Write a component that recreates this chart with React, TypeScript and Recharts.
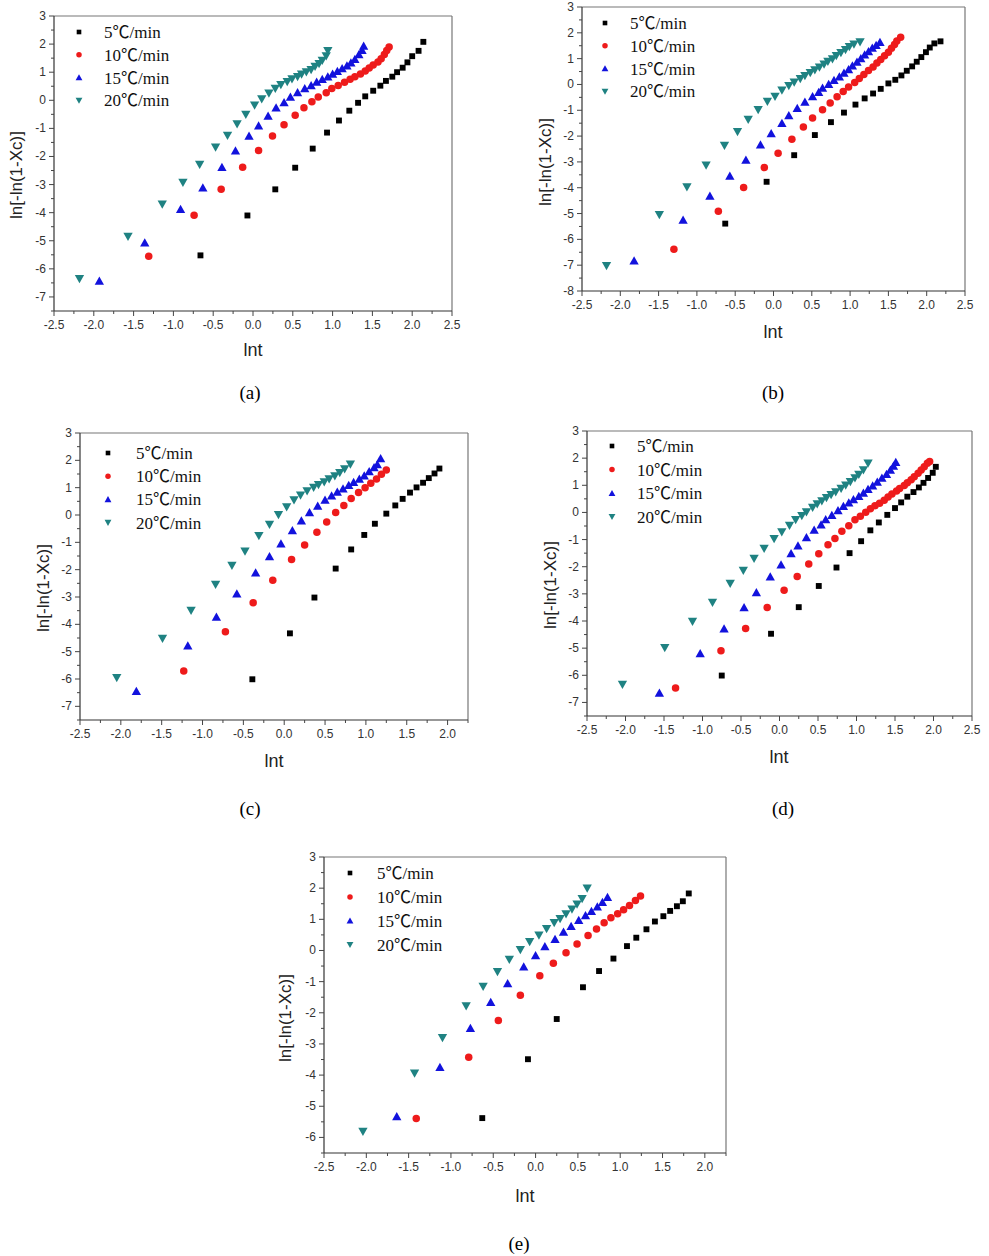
import { ScatterChart, Scatter, XAxis, YAxis, ReferenceLine } from "recharts";

type Pt = [number, number];

// panel (a): lnt vs ln[-ln(1-Xc)]
const a5: Pt[] = [[-0.66,-5.52],[-0.07,-4.10],[0.28,-3.17],[0.53,-2.40],[0.75,-1.72],[0.93,-1.15],[1.08,-0.72],[1.21,-0.37],[1.32,-0.09],[1.41,0.14],[1.51,0.34],[1.60,0.52],[1.67,0.69],[1.75,0.84],[1.81,1.00],[1.88,1.16],[1.94,1.35],[2.00,1.57],[2.08,1.76],[2.14,2.08]];
const a10: Pt[] = [[-1.31,-5.55],[-0.74,-4.09],[-0.40,-3.17],[-0.13,-2.38],[0.07,-1.79],[0.245,-1.27],[0.39,-0.87],[0.53,-0.53],[0.64,-0.27],[0.74,-0.05],[0.82,0.12],[0.92,0.27],[0.99,0.42],[1.07,0.53],[1.15,0.64],[1.22,0.75],[1.28,0.84],[1.35,0.94],[1.41,1.04],[1.46,1.15],[1.51,1.26],[1.57,1.36],[1.61,1.48],[1.65,1.63],[1.68,1.77],[1.71,1.90]];
const a15: Pt[] = [[-1.93,-6.43],[-1.36,-5.07],[-0.91,-3.88],[-0.63,-3.11],[-0.39,-2.38],[-0.22,-1.80],[-0.05,-1.27],[0.07,-0.91],[0.19,-0.56],[0.29,-0.27],[0.39,-0.08],[0.47,0.12],[0.56,0.28],[0.65,0.42],[0.73,0.53],[0.80,0.65],[0.87,0.75],[0.94,0.84],[1.00,0.94],[1.06,1.03],[1.12,1.13],[1.18,1.23],[1.23,1.34],[1.28,1.46],[1.33,1.63],[1.37,1.78],[1.39,1.93]];
const a20: Pt[] = [[-2.18,-6.35],[-1.57,-4.85],[-1.14,-3.70],[-0.88,-2.93],[-0.67,-2.29],[-0.47,-1.67],[-0.32,-1.25],[-0.20,-0.84],[-0.09,-0.51],[0.02,-0.18],[0.11,0.05],[0.20,0.25],[0.28,0.42],[0.35,0.55],[0.43,0.66],[0.49,0.76],[0.56,0.84],[0.61,0.93],[0.67,1.01],[0.73,1.09],[0.78,1.20],[0.83,1.30],[0.87,1.42],[0.92,1.58],[0.94,1.76]];

// panel (b)
const b5: Pt[] = [[-0.63,-5.39],[-0.09,-3.77],[0.27,-2.74],[0.54,-1.96],[0.75,-1.46],[0.92,-1.09],[1.07,-0.78],[1.19,-0.54],[1.30,-0.35],[1.40,-0.17],[1.50,0.04],[1.59,0.18],[1.67,0.35],[1.74,0.53],[1.81,0.70],[1.87,0.88],[1.93,1.06],[1.99,1.25],[2.04,1.43],[2.10,1.59],[2.18,1.67]];
const b10: Pt[] = [[-1.30,-6.38],[-0.72,-4.91],[-0.39,-3.99],[-0.12,-3.22],[0.06,-2.66],[0.24,-2.12],[0.39,-1.65],[0.51,-1.30],[0.64,-0.98],[0.74,-0.72],[0.83,-0.48],[0.91,-0.27],[0.98,-0.10],[1.06,0.08],[1.12,0.23],[1.18,0.39],[1.24,0.54],[1.30,0.68],[1.35,0.83],[1.40,0.97],[1.45,1.11],[1.50,1.25],[1.54,1.40],[1.58,1.55],[1.61,1.68],[1.66,1.83]];
const b15: Pt[] = [[-1.82,-6.83],[-1.18,-5.25],[-0.83,-4.32],[-0.57,-3.55],[-0.36,-2.93],[-0.17,-2.34],[-0.03,-1.90],[0.11,-1.50],[0.20,-1.20],[0.31,-0.92],[0.41,-0.68],[0.51,-0.47],[0.59,-0.30],[0.64,-0.14],[0.72,0.01],[0.79,0.16],[0.86,0.30],[0.92,0.44],[0.98,0.58],[1.03,0.72],[1.09,0.87],[1.14,1.01],[1.19,1.15],[1.24,1.28],[1.29,1.41],[1.34,1.52],[1.39,1.63]];
const b20: Pt[] = [[-2.18,-7.02],[-1.49,-5.05],[-1.13,-3.97],[-0.88,-3.13],[-0.64,-2.36],[-0.47,-1.83],[-0.33,-1.36],[-0.20,-0.98],[-0.08,-0.66],[0.02,-0.47],[0.11,-0.22],[0.20,-0.05],[0.27,0.09],[0.35,0.22],[0.41,0.34],[0.48,0.45],[0.54,0.56],[0.60,0.67],[0.66,0.78],[0.71,0.89],[0.77,0.99],[0.82,1.11],[0.88,1.23],[0.94,1.34],[0.99,1.46],[1.05,1.56],[1.13,1.64]];

// panel (c)
const c5: Pt[] = [[-0.39,-6.01],[0.07,-4.33],[0.37,-3.02],[0.63,-1.96],[0.82,-1.26],[0.98,-0.73],[1.11,-0.32],[1.25,0.05],[1.36,0.35],[1.45,0.59],[1.54,0.82],[1.62,1.01],[1.70,1.18],[1.77,1.35],[1.84,1.52],[1.90,1.70]];
const c10: Pt[] = [[-1.23,-5.71],[-0.72,-4.27],[-0.38,-3.21],[-0.14,-2.39],[0.09,-1.63],[0.25,-1.10],[0.40,-0.63],[0.52,-0.26],[0.63,0.09],[0.73,0.35],[0.82,0.60],[0.91,0.82],[0.99,1.00],[1.06,1.16],[1.13,1.32],[1.19,1.49],[1.25,1.65]];
const c15: Pt[] = [[-1.81,-6.45],[-1.18,-4.78],[-0.83,-3.73],[-0.58,-2.88],[-0.35,-2.11],[-0.18,-1.52],[-0.04,-1.05],[0.10,-0.57],[0.21,-0.21],[0.31,0.09],[0.41,0.33],[0.50,0.55],[0.58,0.70],[0.65,0.84],[0.72,0.96],[0.79,1.09],[0.85,1.20],[0.92,1.32],[0.98,1.44],[1.04,1.59],[1.10,1.74],[1.14,1.85],[1.18,2.07]];
const c20: Pt[] = [[-2.05,-5.95],[-1.49,-4.52],[-1.14,-3.49],[-0.84,-2.54],[-0.64,-1.85],[-0.48,-1.33],[-0.31,-0.76],[-0.18,-0.35],[-0.07,0.01],[0.03,0.29],[0.12,0.55],[0.20,0.72],[0.28,0.88],[0.36,1.01],[0.42,1.11],[0.49,1.21],[0.55,1.32],[0.62,1.43],[0.68,1.55],[0.74,1.68],[0.81,1.86]];

// panel (d)
const d5: Pt[] = [[-0.75,-6.01],[-0.11,-4.47],[0.25,-3.49],[0.51,-2.71],[0.74,-2.03],[0.91,-1.50],[1.06,-1.06],[1.18,-0.66],[1.29,-0.37],[1.40,-0.09],[1.50,0.16],[1.58,0.37],[1.66,0.58],[1.74,0.75],[1.81,0.92],[1.87,1.09],[1.93,1.27],[1.99,1.46],[2.03,1.68]];
const d10: Pt[] = [[-1.35,-6.47],[-0.76,-5.10],[-0.44,-4.28],[-0.16,-3.50],[0.06,-2.87],[0.23,-2.36],[0.38,-1.90],[0.51,-1.52],[0.63,-1.19],[0.72,-0.96],[0.81,-0.69],[0.90,-0.49],[0.98,-0.27],[1.05,-0.14],[1.12,0.01],[1.18,0.14],[1.24,0.25],[1.30,0.34],[1.36,0.45],[1.41,0.57],[1.46,0.68],[1.52,0.79],[1.56,0.88],[1.62,0.99],[1.66,1.09],[1.71,1.20],[1.75,1.31],[1.80,1.44],[1.84,1.56],[1.88,1.68],[1.92,1.81],[1.95,1.88]];
const d15: Pt[] = [[-1.56,-6.65],[-1.03,-5.20],[-0.72,-4.29],[-0.46,-3.50],[-0.30,-2.95],[-0.12,-2.37],[0.02,-1.93],[0.15,-1.51],[0.24,-1.23],[0.35,-0.92],[0.45,-0.65],[0.54,-0.45],[0.60,-0.26],[0.68,-0.10],[0.76,0.07],[0.83,0.23],[0.90,0.36],[0.96,0.48],[1.03,0.60],[1.09,0.72],[1.15,0.85],[1.21,0.98],[1.27,1.12],[1.33,1.27],[1.39,1.41],[1.44,1.56],[1.48,1.71],[1.51,1.85]];
const d20: Pt[] = [[-2.04,-6.34],[-1.49,-4.99],[-1.13,-4.02],[-0.87,-3.32],[-0.64,-2.62],[-0.47,-2.14],[-0.33,-1.70],[-0.20,-1.33],[-0.07,-0.97],[0.03,-0.72],[0.13,-0.48],[0.21,-0.27],[0.29,-0.12],[0.35,0.02],[0.43,0.18],[0.49,0.31],[0.55,0.42],[0.61,0.54],[0.67,0.65],[0.73,0.75],[0.80,0.88],[0.86,1.00],[0.92,1.13],[0.98,1.27],[1.03,1.40],[1.09,1.56],[1.15,1.81]];

// panel (e)
const e5: Pt[] = [[-0.63,-5.38],[-0.09,-3.49],[0.25,-2.20],[0.56,-1.18],[0.75,-0.66],[0.92,-0.26],[1.08,0.14],[1.19,0.41],[1.31,0.68],[1.41,0.93],[1.51,1.10],[1.59,1.27],[1.67,1.42],[1.74,1.58],[1.81,1.83]];
const e10: Pt[] = [[-1.41,-5.39],[-0.79,-3.43],[-0.44,-2.25],[-0.18,-1.44],[0.05,-0.81],[0.21,-0.41],[0.36,-0.07],[0.49,0.21],[0.62,0.48],[0.72,0.69],[0.81,0.89],[0.89,1.05],[0.97,1.18],[1.04,1.31],[1.11,1.44],[1.18,1.60],[1.24,1.75]];
const e15: Pt[] = [[-1.64,-5.33],[-1.13,-3.75],[-0.77,-2.50],[-0.53,-1.66],[-0.33,-1.06],[-0.14,-0.52],[0.00,-0.16],[0.11,0.13],[0.23,0.36],[0.33,0.59],[0.42,0.78],[0.51,0.97],[0.59,1.12],[0.66,1.26],[0.73,1.40],[0.79,1.55],[0.85,1.71]];
const e20: Pt[] = [[-2.04,-5.81],[-1.43,-3.94],[-1.10,-2.80],[-0.82,-1.78],[-0.62,-1.16],[-0.45,-0.68],[-0.31,-0.29],[-0.18,0.02],[-0.07,0.28],[0.04,0.49],[0.13,0.70],[0.22,0.89],[0.29,1.02],[0.36,1.17],[0.43,1.32],[0.49,1.48],[0.55,1.66],[0.61,2.00]];

// tick labels
const xTicksWide = [-2.5, -2, -1.5, -1, -0.5, 0, 0.5, 1, 1.5, 2, 2.5];
const xTicksNarrow = [-2.5, -2, -1.5, -1, -0.5, 0, 0.5, 1, 1.5, 2];
const yTicks7 = [-7, -6, -5, -4, -3, -2, -1, 0, 1, 2, 3];
const yTicks8 = [-8, -7, -6, -5, -4, -3, -2, -1, 0, 1, 2, 3];
const yTicks6 = [-6, -5, -4, -3, -2, -1, 0, 1, 2, 3];

const rateNames = ["5℃/min", "10℃/min", "15℃/min", "20℃/min"];
const rateColors = ["#000000", "#ee1b1b", "#1212dd", "#1f8282"];
const rateShapes = ["square", "circle", "up", "down"];

const SANS = "'Liberation Sans', Arial, sans-serif";
const SERIF = "'Liberation Serif', 'Times New Roman', 'Noto Sans CJK SC', serif";

type PanelDef = {
  box: [number, number, number, number]; // plot left, top, right, bottom on page
  xDomain: [number, number];
  yDomain: [number, number];
  xTicks: number[];
  yTicks: number[];
  series: Pt[][];
  legend: { mx: number; y: number; tx: number; gap: number };
  yLabel: [number, number];
  xLabel: [number, number];
  caption: [string, number, number];
};

const panels: PanelDef[] = [
  { box: [54, 16, 452, 311], xDomain: [-2.5, 2.5], yDomain: [-7.5, 3], xTicks: xTicksWide, yTicks: yTicks7,
    series: [a5, a10, a15, a20], legend: { mx: 79, y: 32, tx: 104, gap: 22.8 },
    yLabel: [16, 175], xLabel: [253, 350], caption: ["(a)", 250, 392] },
  { box: [582, 7, 965, 291], xDomain: [-2.5, 2.5], yDomain: [-8, 3], xTicks: xTicksWide, yTicks: yTicks8,
    series: [b5, b10, b15, b20], legend: { mx: 605, y: 23, tx: 630, gap: 22.8 },
    yLabel: [545, 162], xLabel: [773, 332], caption: ["(b)", 773, 392] },
  { box: [80, 433, 468, 720], xDomain: [-2.5, 2.25], yDomain: [-7.5, 3], xTicks: xTicksNarrow, yTicks: yTicks7,
    series: [c5, c10, c15, c20], legend: { mx: 108, y: 453, tx: 136, gap: 23.2 },
    yLabel: [43, 588], xLabel: [274, 761], caption: ["(c)", 250, 808] },
  { box: [587, 431, 972, 716], xDomain: [-2.5, 2.5], yDomain: [-7.5, 3], xTicks: xTicksWide, yTicks: yTicks7,
    series: [d5, d10, d15, d20], legend: { mx: 612, y: 446, tx: 637, gap: 23.6 },
    yLabel: [550, 585], xLabel: [779, 757], caption: ["(d)", 783, 808] },
  { box: [324, 857, 726, 1153], xDomain: [-2.5, 2.25], yDomain: [-6.5, 3], xTicks: xTicksNarrow, yTicks: yTicks6,
    series: [e5, e10, e15, e20], legend: { mx: 350, y: 873, tx: 377, gap: 23.9 },
    yLabel: [285, 1018], xLabel: [525, 1196], caption: ["(e)", 519, 1243] },
];

const ML = 50; // y axis width
const MT = 10;

const markerPath = (kind: string, cx: number, cy: number, s: number) => {
  if (kind === "up") return `M${cx},${cy - s * 0.6}L${cx + s * 0.62},${cy + s * 0.5}L${cx - s * 0.62},${cy + s * 0.5}Z`;
  if (kind === "down") return `M${cx},${cy + s * 0.6}L${cx + s * 0.62},${cy - s * 0.5}L${cx - s * 0.62},${cy - s * 0.5}Z`;
  return "";
};

const Marker = ({ kind, color, cx, cy, s }: { kind: string; color: string; cx: number; cy: number; s: number }) => {
  if (kind === "square") return <rect x={cx - s * 0.42} y={cy - s * 0.42} width={s * 0.84} height={s * 0.84} fill={color} />;
  if (kind === "circle") return <circle cx={cx} cy={cy} r={s * 0.5} fill={color} />;
  return <path d={markerPath(kind, cx, cy, s)} fill={color} />;
};

const minorTicks = (domain: [number, number], majors: number[]) => {
  const step = (majors[1] - majors[0]) / 2;
  const out: number[] = [];
  for (let v = domain[0]; v <= domain[1] + 1e-9; v += step) {
    if (!majors.some((m) => Math.abs(m - v) < 1e-6)) out.push(v);
  }
  return out;
};

const isMajor = (v: number, majors: number[]) => majors.some((m) => Math.abs(m - v) < 1e-6);

const Panel = ({ p }: { p: PanelDef }) => {
  const [x0, y0, x1, y1] = p.box;
  const W = x1 - x0 + ML + 12;
  const H = y1 - y0 + MT + 40;
  const axisY = MT + (y1 - y0);
  const xAll = [...p.xTicks, ...minorTicks(p.xDomain, p.xTicks)].sort((a, b) => a - b);
  const yAll = [...p.yTicks, ...minorTicks(p.yDomain, p.yTicks)].sort((a, b) => a - b);

  const xTick = (props: any) => {
    const { x, payload } = props;
    const v = payload.value;
    const major = isMajor(v, p.xTicks);
    return (
      <g>
        <line x1={x} x2={x} y1={axisY} y2={axisY + (major ? 5 : 3)} stroke="#444" strokeWidth={1} />
        {major && (
          <text x={x} y={axisY + 18} textAnchor="middle" fontSize={12} fill="#333" fontFamily={SANS}>
            {v.toFixed(1)}
          </text>
        )}
      </g>
    );
  };

  const yTick = (props: any) => {
    const { y, payload } = props;
    const v = payload.value;
    const major = isMajor(v, p.yTicks);
    return (
      <g>
        <line x1={ML} x2={ML - (major ? 5 : 3)} y1={y} y2={y} stroke="#444" strokeWidth={1} />
        {major && (
          <text x={ML - 8} y={y + 4} textAnchor="end" fontSize={12} fill="#333" fontFamily={SANS}>
            {String(v)}
          </text>
        )}
      </g>
    );
  };

  return (
    <div style={{ position: "absolute", left: x0 - ML, top: y0 - MT }}>
      <ScatterChart width={W} height={H} margin={{ top: MT, right: 12, bottom: 0, left: 0 }}>
        <XAxis
          type="number"
          dataKey="x"
          domain={p.xDomain}
          ticks={xAll}
          interval={0}
          allowDataOverflow
          height={40}
          tickLine={false}
          axisLine={{ stroke: "#333", strokeWidth: 1.2 }}
          tick={xTick}
        />
        <YAxis
          type="number"
          dataKey="y"
          domain={p.yDomain}
          ticks={yAll}
          interval={0}
          allowDataOverflow
          width={ML}
          tickLine={false}
          axisLine={{ stroke: "#333", strokeWidth: 1.2 }}
          tick={yTick}
        />
        <ReferenceLine y={p.yDomain[1]} stroke="#777" strokeWidth={1.2} />
        <ReferenceLine x={p.xDomain[1]} stroke="#777" strokeWidth={1.2} />
        {p.series.map((pts, i) => (
          <Scatter
            key={rateNames[i]}
            name={rateNames[i]}
            data={pts.map(([x, y]) => ({ x, y }))}
            fill={rateColors[i]}
            isAnimationActive={false}
            shape={(sp: any) => <Marker kind={rateShapes[i]} color={rateColors[i]} cx={sp.cx} cy={sp.cy} s={i === 0 ? 7 : 7.5} />}
          />
        ))}
      </ScatterChart>
    </div>
  );
};

const Overlay = () => (
  <svg width={989} height={1256} style={{ position: "absolute", left: 0, top: 0, pointerEvents: "none" }}>
    {panels.map((p, pi) => (
      <g key={pi}>
        {rateNames.map((name, i) => {
          const cy = p.legend.y + i * p.legend.gap;
          return (
            <g key={name}>
              <Marker kind={rateShapes[i]} color={rateColors[i]} cx={p.legend.mx} cy={cy} s={5.5} />
              <text x={p.legend.tx} y={cy + 6} fontSize={17} fontFamily={SERIF} fill="#111">
                {name}
              </text>
            </g>
          );
        })}
        <text
          x={p.yLabel[0]}
          y={p.yLabel[1]}
          transform={`rotate(-90 ${p.yLabel[0]} ${p.yLabel[1]})`}
          textAnchor="middle"
          dominantBaseline="central"
          fontSize={17}
          fontFamily={SANS}
          fill="#222"
        >
          ln[-ln(1-Xc)]
        </text>
        <text x={p.xLabel[0]} y={p.xLabel[1]} textAnchor="middle" dominantBaseline="central" fontSize={18} fontFamily={SANS} fill="#222">
          lnt
        </text>
        <text x={p.caption[1]} y={p.caption[2]} textAnchor="middle" dominantBaseline="central" fontSize={19} fontFamily={SERIF} fill="#000">
          {p.caption[0]}
        </text>
      </g>
    ))}
  </svg>
);

export default function App() {
  return (
    <div style={{ position: "absolute", left: 0, top: 0, width: 989, height: 1256, background: "#fff", overflow: "hidden" }}>
      {panels.map((p, i) => (
        <Panel key={i} p={p} />
      ))}
      <Overlay />
    </div>
  );
}
